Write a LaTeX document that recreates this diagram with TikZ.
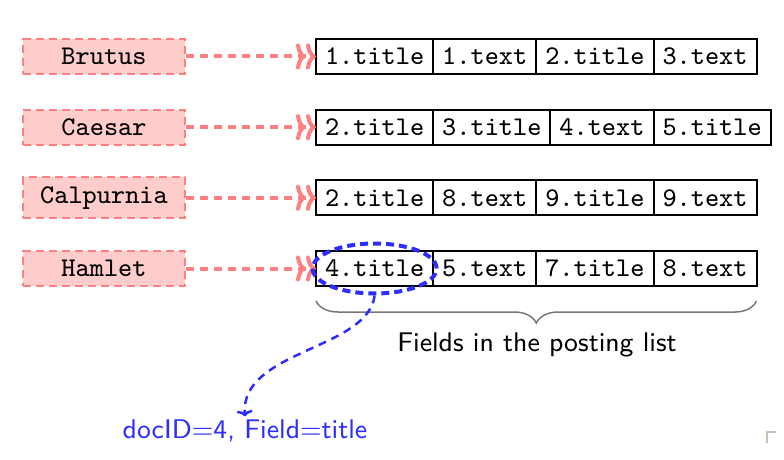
\documentclass[tikz,border=0pt]{standalone}
\usepackage{fontspec}
\setmonofont{lmmono9-regular.otf}
\setsansfont{lmsans9-regular.otf}
\usetikzlibrary{arrows.meta,decorations.pathreplacing,shapes.geometric}
\definecolor{termfill}{RGB}{255,204,204}
\definecolor{termline}{RGB}{255,128,128}
\definecolor{noteblue}{RGB}{45,45,255}
\definecolor{bracegray}{RGB}{120,120,120}
\begin{document}
\begin{tikzpicture}[x=1pt,y=-1pt,
  font=\fontsize{27}{32}\selectfont,
  term/.style={draw=termline, fill=termfill, line width=2pt,
    dash pattern=on 8pt off 5pt, minimum width=162pt, inner sep=9pt,
    font=\fontsize{27}{32}\selectfont\ttfamily},
  cell/.style={draw, line width=2pt, inner sep=9pt, outer sep=0pt,
    minimum height=35pt, anchor=west,
    font=\fontsize{27}{32}\selectfont\ttfamily},
  link/.style={termline, line width=4pt, dash pattern=on 8pt off 6pt,
    -{To[length=10pt,width=26pt]To[length=10pt,width=26pt]}},
  highlight/.style={draw=noteblue, line width=4pt, dash pattern=on 8pt off 5pt,
    ellipse, minimum width=124pt, minimum height=50pt},
  pointer/.style={noteblue, line width=2.5pt, dash pattern=on 8pt off 6pt,
    -{To[length=6pt,width=16pt]}},
]
\useasboundingbox (0,0) rectangle (784,460);

% terms, their posting lists and the links between them
\foreach \r/\y/\term/\a/\b/\c/\d in {
  1/56.5/Brutus/1.title/1.text/2.title/3.text,
  2/127.2/Caesar/2.title/3.title/4.text/5.title,
  3/197.8/Calpurnia/2.title/8.text/9.title/9.text,
  4/268.5/Hamlet/4.title/5.text/7.title/8.text}{
  \node[term] (t\r) at (104,\y) {\term};
  \node[cell] (c\r1) at (316,\y) {\a};
  \node[cell] (c\r2) at (c\r1.east) {\b};
  \node[cell] (c\r3) at (c\r2.east) {\c};
  \node[cell] (c\r4) at (c\r3.east) {\d};
  \draw[link] (t\r) -- (c\r1);
}

% brace under the last posting list
\coordinate (bl) at ([yshift=-15pt]c41.south west);
\coordinate (br) at ([yshift=-15pt]c44.south east);
\draw[bracegray, line width=1.5pt, decorate,
  decoration={brace, mirror, amplitude=22pt}] (bl) -- (br);
\node[font=\fontsize{27}{32}\selectfont\sffamily] (fields) at (537,345)
  {Fields in the posting list};

% highlighted entry and its explanation
\node[highlight] (hl) at (c41) {};
\node[font=\fontsize{27}{32}\selectfont\sffamily, text=noteblue] (note)
  at (245,431) {docID=4, Field=title};
\draw[pointer] (hl.south) .. controls (368,350) and (240,350) .. (note.north);

% small corner mark
\draw[color={rgb,255:red,200;green,192;blue,178}, line width=1.5pt]
  (776,432) -- (767,432) -- (767,443);
\end{tikzpicture}
\end{document}
